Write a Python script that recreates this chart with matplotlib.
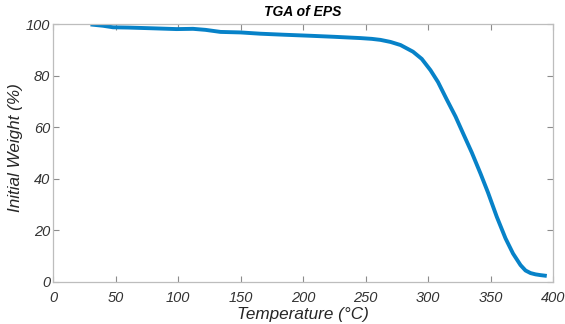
import matplotlib
matplotlib.use('agg')
import matplotlib.pyplot as plt

# TGA curve
temperature = [30, 40, 48, 60, 80, 99, 112, 122, 134, 150, 166, 185, 206, 225,
               246, 255, 262, 270, 278, 288, 295, 302, 308, 315, 322, 328,
               335, 342, 348, 355, 362, 368, 374, 378, 382, 386, 390, 395]
weight = [100, 99.5, 98.9, 98.8, 98.5, 98.2, 98.3, 97.9, 97.1, 96.9, 96.4, 96.0,
          95.6, 95.2, 94.7, 94.4, 94.0, 93.2, 92.0, 89.4, 86.6, 82.2, 77.6, 70.8,
          64.2, 57.7, 50.2, 42.0, 34.6, 25.2, 16.8, 10.9, 6.4, 4.3, 3.3, 2.8,
          2.5, 2.2]

xticks = [0, 50, 100, 150, 200, 250, 300, 350, 400]
yticks = [0, 20, 40, 60, 80, 100]

plt.rcParams['font.family'] = ['Liberation Sans', 'DejaVu Sans']

fig = plt.figure(figsize=(5.65, 3.24), dpi=100)
ax = fig.add_axes([0.0938, 0.131, 0.885, 0.7935])

ax.plot(temperature, weight, color='#0782C8', linewidth=2.8,
        solid_capstyle='butt')

ax.set_xlim(0, 400)
ax.set_ylim(0, 100)
ax.set_xticks(xticks)
ax.set_yticks(yticks)

grey = '#BDBDBD'
for sp in ax.spines.values():
    sp.set_color(grey)
    sp.set_linewidth(0.9)
ax.tick_params(direction='in', top=True, right=True, length=4,
               color='#8c8c8c', width=0.8, labelsize=10.5,
               labelcolor='#333333')
ax.tick_params(axis='x', pad=7)
ax.tick_params(axis='y', pad=2)
for lab in ax.get_xticklabels() + ax.get_yticklabels():
    lab.set_fontstyle('italic')

ax.set_title('TGA of EPS', fontsize=10, fontweight='bold', fontstyle='italic',
             pad=6)
ax.set_xlabel('Temperature (°C)', fontsize=12.3, fontstyle='italic',
              color='#262626', labelpad=1)
ax.set_ylabel('Initial Weight (%)', fontsize=12.3, fontstyle='italic',
              color='#262626', va='center')
ax.yaxis.set_label_coords(-0.074, 0.523)

plt.savefig('out.png', dpi=100)
plt.close()
